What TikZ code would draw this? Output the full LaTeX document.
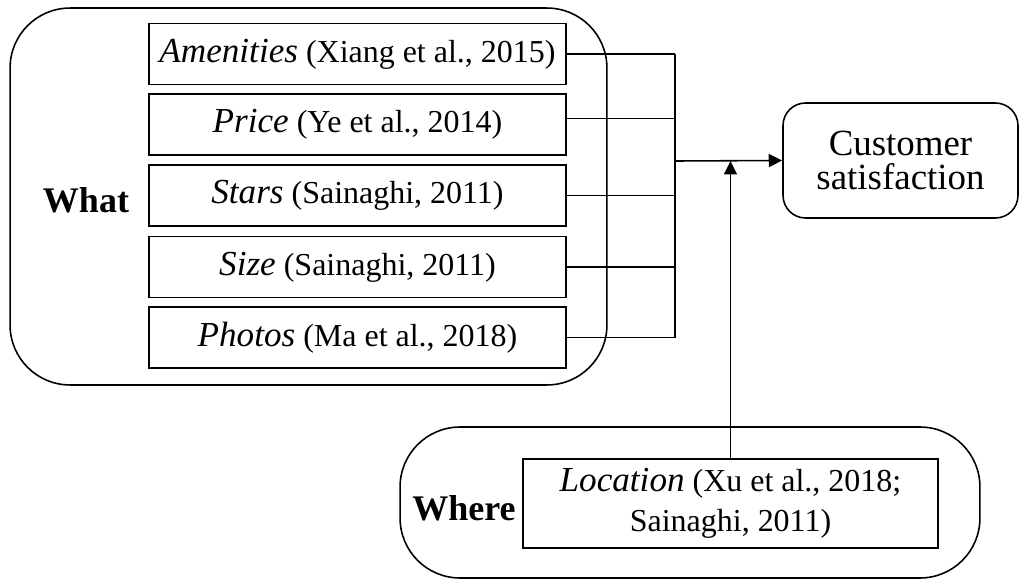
\documentclass[tikz,border=0pt]{standalone}
\usepackage{fontspec}
\setmainfont{Liberation Serif}
\usetikzlibrary{arrows.meta}
\newcommand{\term}[1]{{\itshape\fontsize{20}{23}\selectfont #1}}

\begin{document}
\begin{tikzpicture}[
        x=0.02cm,y=-0.02cm,
        line width=0.9pt,
        group/.style={draw,rounded corners=1.2cm,inner sep=0pt},
        factor/.style={draw,minimum width=8.34cm,minimum height=1.22cm,inner sep=0pt,
            font=\fontsize{18.2}{22.5}\selectfont,align=center},
        outcome/.style={draw,rounded corners=0.45cm,minimum width=4.7cm,minimum height=2.3cm,
            align=center,font=\fontsize{21}{19.5}\selectfont},
        heading/.style={font=\bfseries\fontsize{20.5}{24}\selectfont},
        >={Triangle[length=2.7mm,width=2.6mm]}
    ]

    \useasboundingbox (0,0) rectangle (1021,581);

    \node[group,minimum width=11.94cm,minimum height=7.54cm] (what) at (308.5,196.5) {};
    \node[heading] (whatlabel) at (86,200) {What};

    \node[factor] (amenities) at (357.5,54) {\term{Amenities} (Xiang et al., 2015)};
    \node[factor] (price) at (357.5,124.5) {\term{Price} (Ye et al., 2014)};
    \node[factor] (stars) at (357.5,195.5) {\term{Stars} (Sainaghi, 2011)};
    \node[factor] (size) at (357.5,267) {\term{Size} (Sainaghi, 2011)};
    \node[factor] (photos) at (357.5,337.5) {\term{Photos} (Ma et al., 2018)};

    \node[outcome] (satisfaction) at (900.5,160.5) {Customer\\satisfaction};

    \node[group,minimum width=11.6cm,minimum height=3.02cm] (where) at (690,502.5) {};
    \node[heading] (wherelabel) at (464,508) {Where};
    \node[factor,minimum width=8.3cm,minimum height=1.78cm] (location) at (730.5,503.5)
        {\term{Location} (Xu et al., 2018;\\Sainaghi, 2011)};

    \coordinate (join) at (675,161);

    \foreach \f/\dy in {amenities/0,price/0.12,stars/0,size/0,photos/0}
        \draw ([yshift=\dy cm]\f.east) -- ([yshift=\dy cm]\f.east -| join);
    \draw (amenities.east -| join) -- (photos.east -| join);

    \draw[->] (join) -- (satisfaction.west);
    \draw[->] (location.north) -- (location.north |- join);

\end{tikzpicture}
\end{document}
